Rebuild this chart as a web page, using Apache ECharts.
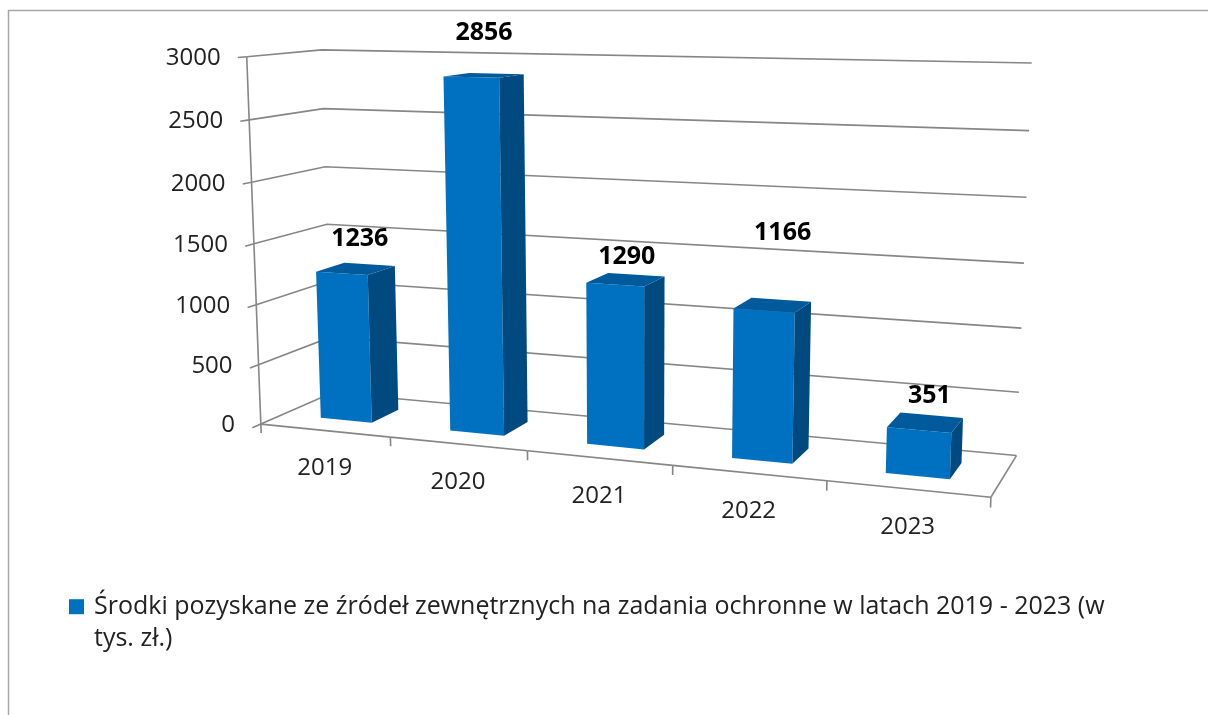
<!DOCTYPE html>
<html>
<head>
<meta charset="utf-8">
<title>Środki pozyskane ze źródeł zewnętrznych</title>
<script src="https://cdn.jsdelivr.net/npm/echarts@6.0.0/dist/echarts.min.js"></script>
<style>
  html, body { margin: 0; padding: 0; background: #fff; }
  #chart { width: 1208px; height: 715px; }
</style>
</head>
<body>
<div id="chart"></div>
<script>
const years = ['2019', '2020', '2021', '2022', '2023'];
const values = [1236, 2856, 1290, 1166, 351];
const yTicks = [0, 500, 1000, 1500, 2000, 2500, 3000];
const seriesName = 'Środki pozyskane ze źródeł zewnętrznych na zadania ochronne w latach 2019 - 2023 (w tys. zł.)';

// 3D look: screen spots of a few points of the chart box
// u = across categories, v = up the value axis, w = into the depth (all 0..1)
const viewPoints = [
  [0, 0 / 6, 0, 261.0, 424.3], [0, 1 / 6, 0, 258.6, 365.0], [0, 2 / 6, 0, 256.2, 304.0],
  [0, 3 / 6, 0, 253.9, 243.3], [0, 4 / 6, 0, 251.5, 182.3], [0, 5 / 6, 0, 249.1, 120.0],
  [0, 6 / 6, 0, 246.7, 56.7],
  [1, 0 / 6, 1, 1016.0, 456.0], [1, 1 / 6, 1, 1019.0, 392.0], [1, 2 / 6, 1, 1021.7, 327.7],
  [1, 3 / 6, 1, 1024.0, 262.7], [1, 4 / 6, 1, 1026.7, 197.3], [1, 5 / 6, 1, 1029.0, 130.7],
  [1, 6 / 6, 1, 1031.7, 63.3],
  [0, 6 / 6, 1, 321.7, 50.0], [0, 5 / 6, 1, 323.0, 109.0], [0, 4 / 6, 1, 325.7, 166.7],
  [0, 3 / 6, 1, 326.7, 224.0],
  [0.2, 0, 0, 391.0, 437.3], [0.4, 0, 0, 526.7, 450.9], [0.6, 0, 0, 673.3, 465.5],
  [0.8, 0, 0, 826.7, 480.9], [1, 0, 0, 990.7, 497.3]
];

const barShare = 0.4;            // bar width as part of a category band
const barDepth = [0.3, 0.7];     // bar front and back inside the floor depth
// hand placed data labels (px shift from the default spot)
const labelNudge = {
  '2019': [4, -3], '2020': [0, -15], '2021': [1, 4], '2022': [10, -45], '2023': [4, 0]
};
const lineColor = '#868686';
const textColor = '#222';
const font = '"Open Sans", Lato, sans-serif';

// least squares fit of a 3x4 projection (last term fixed to 1)
function fitProjection(points) {
  const n = 11;
  const A = Array.from({ length: n }, () => new Array(n + 1).fill(0));
  points.forEach(([u, v, w, x, y]) => {
    const rows = [
      [[u, v, w, 1, 0, 0, 0, 0, -x * u, -x * v, -x * w], x],
      [[0, 0, 0, 0, u, v, w, 1, -y * u, -y * v, -y * w], y]
    ];
    rows.forEach(([r, b]) => {
      for (let i = 0; i < n; i++) {
        for (let j = 0; j < n; j++) A[i][j] += r[i] * r[j];
        A[i][n] += r[i] * b;
      }
    });
  });
  for (let c = 0; c < n; c++) {
    let p = c;
    for (let r = c + 1; r < n; r++) if (Math.abs(A[r][c]) > Math.abs(A[p][c])) p = r;
    [A[c], A[p]] = [A[p], A[c]];
    for (let r = 0; r < n; r++) {
      if (r === c) continue;
      const f = A[r][c] / A[c][c];
      for (let k = c; k <= n; k++) A[r][k] -= f * A[c][k];
    }
  }
  return A.map((row, i) => row[n] / row[i]);
}
const m = fitProjection(viewPoints);
function P(u, v, w) {
  const d = m[8] * u + m[9] * v + m[10] * w + 1;
  return [
    (m[0] * u + m[1] * v + m[2] * w + m[3]) / d,
    (m[4] * u + m[5] * v + m[6] * w + m[7]) / d
  ];
}
const toU = (cs, px) => (px - cs.x) / cs.width;
const toV = (cs, py) => (cs.y + cs.height - py) / cs.height;

function seg(a, b) {
  return {
    type: 'line',
    shape: { x1: a[0], y1: a[1], x2: b[0], y2: b[1] },
    style: { stroke: lineColor, lineWidth: 1.6 }
  };
}

function renderGridLine(params, api) {
  const cs = params.coordSys;
  const v = toV(cs, api.coord([0, api.value(1)])[1]);
  const front = P(0, v, 0);
  return {
    type: 'group',
    children: [
      {
        type: 'polyline',
        shape: { points: [front, P(0, v, 1), P(1, v, 1)] },
        style: { stroke: lineColor, lineWidth: 1.6, fill: null }
      },
      seg(P(0, v, -0.11), front),
      {
        type: 'text',
        style: {
          text: String(api.value(1)), x: front[0] - 26, y: front[1] + 1.5,
          align: 'right', verticalAlign: 'middle',
          fontFamily: font, fontSize: 24, fill: textColor
        }
      }
    ]
  };
}

function renderCategory(params, api) {
  const cs = params.coordSys;
  const i = api.value(0);
  const mid = api.coord([i, 0])[0];
  const band = api.size([1, 0])[0];
  const uL = toU(cs, mid - band / 2);
  const uR = toU(cs, mid + band / 2);
  const base = P(toU(cs, mid), 0, 0);
  const children = [
    seg(P(uL, 0, 0), P(uR, 0, 0)),
    seg(P(uL, 0, 0), P(uL, -0.025, 0)),
    {
      type: 'text',
      style: {
        text: years[i], x: base[0], y: base[1] + 38,
        align: 'center', verticalAlign: 'middle',
        fontFamily: font, fontSize: 24, fill: textColor
      }
    }
  ];
  if (params.dataIndex === 0) children.push(seg(P(0, 0, 0), P(0, 1, 0)));
  if (params.dataIndex === years.length - 1) {
    children.push(seg(P(uR, 0, 0), P(uR, -0.025, 0)));
    children.push(seg(P(uR, 0, 0), P(uR, 0, 1)));
  }
  return { type: 'group', children };
}

function renderBar(params, api) {
  const cs = params.coordSys;
  const top = api.coord([api.value(0), api.value(1)]);
  const half = api.size([1, 0])[0] * barShare / 2;
  const u0 = toU(cs, top[0] - half);
  const u1 = toU(cs, top[0] + half);
  const v1 = toV(cs, top[1]);
  const [w0, w1] = barDepth;
  const anchor = P((u0 + u1) / 2, v1, (w0 + w1) / 2);
  const nudge = labelNudge[years[api.value(0)]] || [0, 0];
  return {
    type: 'group',
    children: [
      { type: 'polygon', shape: { points: [P(u0, 0, w0), P(u1, 0, w0), P(u1, v1, w0), P(u0, v1, w0)] }, style: { fill: '#0070c0' } },
      { type: 'polygon', shape: { points: [P(u1, 0, w0), P(u1, 0, w1), P(u1, v1, w1), P(u1, v1, w0)] }, style: { fill: '#004a80' } },
      { type: 'polygon', shape: { points: [P(u0, v1, w0), P(u1, v1, w0), P(u1, v1, w1), P(u0, v1, w1)] }, style: { fill: '#005a9c' } },
      {
        type: 'text',
        style: {
          text: String(api.value(1)), x: anchor[0] + nudge[0], y: anchor[1] - 27 + nudge[1],
          align: 'center', verticalAlign: 'middle',
          fontFamily: font, fontSize: 25, fontWeight: 'bold', fill: '#000'
        }
      }
    ]
  };
}

const chart = echarts.init(document.getElementById('chart'));
chart.setOption({
  animation: false,
  backgroundColor: '#fff',
  grid: { left: 0, right: 0, top: 0, bottom: 0 },
  xAxis: { type: 'category', data: years, show: false },
  yAxis: { type: 'value', min: 0, max: 3000, interval: 500, show: false },
  legend: {
    left: 69,
    top: 558.7,
    padding: 0,
    icon: 'rect',
    itemWidth: 15,
    itemHeight: 15,
    selectedMode: false,
    data: [seriesName],
    // empty first line keeps the first real line level with the square
    formatter: name => '\n' + name.replace(' tys.', '\ntys.'),
    textStyle: {
      fontFamily: font, fontSize: 25, color: textColor,
      lineHeight: 32, padding: [0, 0, 0, 5]
    }
  },
  graphic: [{
    type: 'rect',
    silent: true,
    shape: { x: 8.5, y: 10.5, width: 1400, height: 1000 },
    style: { fill: null, stroke: '#a6a6a6', lineWidth: 1.5 }
  }],
  series: [
    {
      type: 'custom', name: 'grid', silent: true, clip: false,
      encode: { x: 0, y: 1 },
      renderItem: renderGridLine,
      data: yTicks.map(t => [0, t])
    },
    {
      type: 'custom', name: 'axis', silent: true, clip: false,
      encode: { x: 0, y: 1 },
      renderItem: renderCategory,
      data: years.map((y, i) => [i, 0])
    },
    {
      type: 'custom', name: seriesName, clip: false,
      encode: { x: 0, y: 1 },
      itemStyle: { color: '#0070c0' },
      renderItem: renderBar,
      data: values.map((v, i) => [i, v])
    }
  ]
});
</script>
</body>
</html>
